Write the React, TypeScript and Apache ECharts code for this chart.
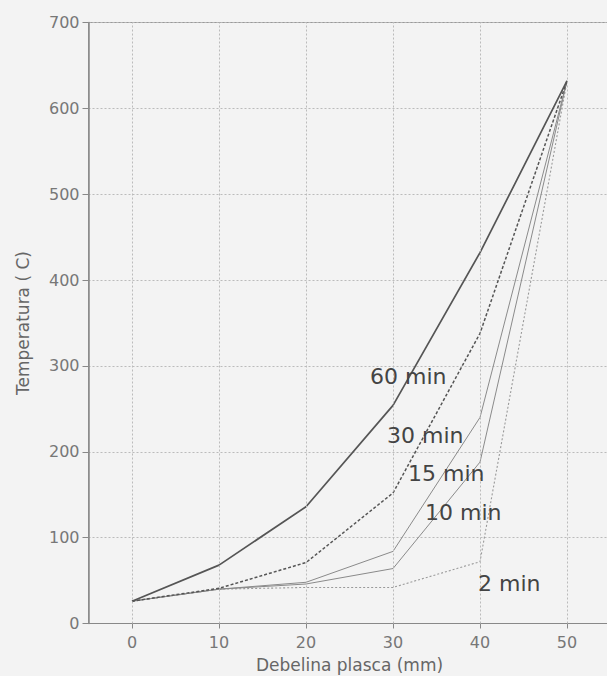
import React, { useEffect, useRef } from "react";
import * as echarts from "echarts";

const thickness = [0, 10, 20, 30, 40, 50];
const t60 = [26, 68, 136, 254, 432, 632];
const t30 = [26, 41, 71, 152, 338, 632];
const t15 = [26, 40, 48, 84, 240, 632];
const t10 = [26, 40, 46, 64, 188, 632];
const t2 = [26, 40, 42, 42, 72, 632];
const xTicks = [0, 10, 20, 30, 40, 50];
const curveLabels = ["60 min", "30 min", "15 min", "10 min", "2 min"];

const FONT = "DejaVu Sans";

export default function App() {
  const ref = useRef<HTMLDivElement>(null);
  useEffect(() => {
    if (!ref.current) return;
    const chart = echarts.init(ref.current, null, { renderer: "svg" });
    const pts = (ys: number[]) => thickness.map((x, i) => [x, ys[i]]);
    const mk = (
      name: string,
      ys: number[],
      color: string,
      width: number,
      type: any,
      extra: any = {}
    ) => ({
      name,
      type: "line",
      data: pts(ys),
      symbol: "none",
      silent: true,
      lineStyle: { color, width, type },
      ...extra,
    });
    const labelPos = [
      [370, 376],
      [387, 435],
      [408, 473],
      [425, 512],
      [478, 583],
    ];
    chart.setOption({
      animation: false,
      backgroundColor: "#f3f3f3",
      textStyle: { fontFamily: FONT },
      grid: {
        left: 88.5,
        top: 22.5,
        width: 522,
        height: 601,
        containLabel: false,
        outerBoundsMode: "none",
        show: true,
        borderColor: "#999",
        borderWidth: 1,
        backgroundColor: "transparent",
      },
      xAxis: {
        type: "value",
        min: -5,
        max: 55,
        axisLine: {
          show: true,
          onZero: false,
          lineStyle: { color: "#888", width: 1.2 },
        },
        axisTick: {
          show: true,
          customValues: xTicks,
          length: 5,
          lineStyle: { color: "#888" },
        },
        axisLabel: {
          customValues: xTicks,
          color: "#777",
          fontSize: 16,
          fontFamily: FONT,
          margin: 11,
        },
        splitLine: { show: false },
        name: "Debelina plasca (mm)",
        nameLocation: "middle",
        nameGap: 33,
        nameTextStyle: { color: "#666", fontSize: 17, fontFamily: FONT },
      },
      yAxis: {
        type: "value",
        min: 0,
        max: 700,
        interval: 100,
        axisLine: {
          show: true,
          onZero: false,
          lineStyle: { color: "#888", width: 1.5 },
        },
        axisTick: { show: true, length: 6, lineStyle: { color: "#888" } },
        axisLabel: { color: "#777", fontSize: 16, fontFamily: FONT, margin: 9 },
        splitLine: {
          show: true,
          lineStyle: { color: "#bbb", type: [2, 2], width: 1 },
        },
        name: "Temperatura ( C)",
        nameLocation: "middle",
        nameGap: 57,
        nameTextStyle: { color: "#666", fontSize: 17, fontFamily: FONT },
      },
      series: [
        {
          type: "line",
          data: [],
          silent: true,
          markLine: {
            silent: true,
            symbol: ["none", "none"],
            label: { show: false },
            lineStyle: { color: "#bbb", type: [2, 2], width: 1 },
            data: xTicks.map((v) => ({ xAxis: v })),
          },
        },
        mk("2 min", t2, "#9a9a9a", 1.1, [2, 2]),
        mk("10 min", t10, "#8a8a8a", 1, "solid"),
        mk("15 min", t15, "#8a8a8a", 1, "solid"),
        mk("30 min", t30, "#555", 1.5, [3, 2]),
        mk("60 min", t60, "#555", 1.7, "solid"),
      ],
      graphic: curveLabels.map((t, i) => ({
        type: "text",
        x: labelPos[i][0],
        y: labelPos[i][1],
        z: 100,
        style: {
          text: t,
          fill: "#444",
          font: `22px "${FONT}"`,
          textVerticalAlign: "middle",
          verticalAlign: "middle",
        },
      })),
    });
    return () => chart.dispose();
  }, []);
  return (
    <div
      ref={ref}
      style={{
        position: "fixed",
        left: 0,
        top: 0,
        width: 607,
        height: 676,
        background: "#f3f3f3",
      }}
    />
  );
}
